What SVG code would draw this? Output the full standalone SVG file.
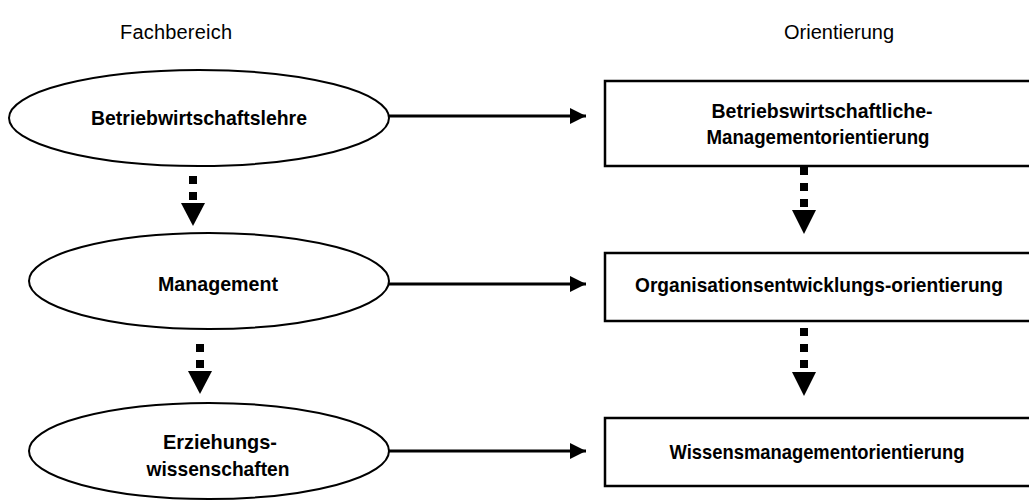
<svg xmlns="http://www.w3.org/2000/svg" width="1029" height="501" viewBox="0 0 1029 501">
<style>
.title{font-family:"Liberation Sans",Arial,sans-serif;font-size:20px;fill:#000;text-anchor:middle}
.lbl{font-family:"Liberation Sans",Arial,sans-serif;font-size:20.5px;font-weight:bold;fill:#000;text-anchor:middle}
.ell{fill:#fff;stroke:#000;stroke-width:2}
.box{fill:#fff;stroke:#000;stroke-width:2.5}
.conn{stroke:#000;stroke-width:3;fill:none}
.dot{fill:#000}
</style>
<defs>
<marker id="ah" viewBox="0 0 16 16" refX="16" refY="8" markerWidth="16" markerHeight="16" markerUnits="userSpaceOnUse" orient="auto">
<path d="M0,0 L16,8 L0,16 Z" fill="#000"/>
</marker>
</defs>
<rect width="1029" height="501" fill="#fff"/>
<text class="title" x="176" y="39" textLength="112" lengthAdjust="spacing">Fachbereich</text>
<text class="title" x="839" y="39">Orientierung</text>

<g id="n1"><ellipse class="ell" cx="199" cy="118" rx="190" ry="48"/><text class="lbl" x="199" y="125" textLength="216" lengthAdjust="spacingAndGlyphs">Betriebwirtschaftslehre</text></g>
<g id="n2"><ellipse class="ell" cx="209" cy="281" rx="180" ry="48"/><text class="lbl" x="218" y="291" textLength="120" lengthAdjust="spacingAndGlyphs">Management</text></g>
<g id="n3"><ellipse class="ell" cx="209" cy="451" rx="180" ry="48"/><text class="lbl" x="220" y="449" textLength="114" lengthAdjust="spacingAndGlyphs">Erziehungs-</text><text class="lbl" x="218" y="476" textLength="143" lengthAdjust="spacingAndGlyphs">wissenschaften</text></g>

<g id="b1"><rect class="box" x="605" y="81" width="440" height="85"/><text class="lbl" x="822" y="118" textLength="221" lengthAdjust="spacingAndGlyphs">Betriebswirtschaftliche-</text><text class="lbl" x="818" y="144" textLength="223" lengthAdjust="spacingAndGlyphs">Managementorientierung</text></g>
<g id="b2"><rect class="box" x="605" y="253" width="440" height="68"/><text class="lbl" x="819" y="292" textLength="368" lengthAdjust="spacingAndGlyphs">Organisationsentwicklungs-orientierung</text></g>
<g id="b3"><rect class="box" x="605" y="418" width="440" height="68"/><text class="lbl" x="817" y="459" textLength="295" lengthAdjust="spacingAndGlyphs">Wissensmanagementorientierung</text></g>

<g id="connectors">
<line class="conn" x1="389" y1="116" x2="586" y2="116" marker-end="url(#ah)"/>
<line class="conn" x1="389" y1="284" x2="586" y2="284" marker-end="url(#ah)"/>
<line class="conn" x1="389" y1="451" x2="586" y2="451" marker-end="url(#ah)"/>
<g class="dot">
<rect x="189" y="176" width="8" height="8"/><rect x="189" y="192" width="8" height="8"/><path d="M181,203 L205,203 L193,226 Z"/>
<rect x="196" y="344" width="8" height="8"/><rect x="196" y="360" width="8" height="8"/><path d="M188,371 L212,371 L200,394 Z"/>
<rect x="800" y="167" width="8" height="8"/><rect x="800" y="183" width="8" height="8"/><rect x="800" y="199" width="8" height="8"/><path d="M792,210 L816,210 L804,234 Z"/>
<rect x="800" y="328" width="8" height="8"/><rect x="800" y="344" width="8" height="8"/><rect x="800" y="360" width="8" height="8"/><path d="M792,372 L816,372 L804,396 Z"/>
</g>
</g>
</svg>
